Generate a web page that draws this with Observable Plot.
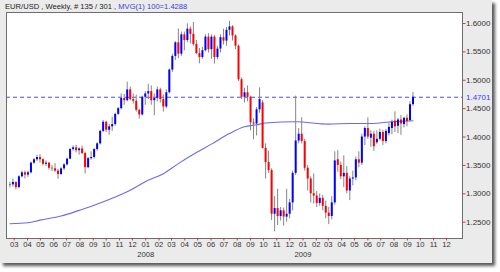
<!DOCTYPE html>
<html>
<head>
<meta charset="utf-8">
<script src="https://cdn.jsdelivr.net/npm/d3@7"></script>
<script src="https://cdn.jsdelivr.net/npm/@observablehq/plot@0.6"></script>
<style>
  html, body { margin: 0; padding: 0; background: #ffffff; }
  body { width: 500px; height: 272px; position: relative; overflow: hidden;
         font-family: "Liberation Sans", Arial, sans-serif; }
  #panel { position: absolute; left: 0; top: 0; width: 492px; height: 263px;
           background: #ebebeb; box-shadow: 3px 3px 3px #5a5a5a; }
  #chart { position: absolute; left: 0; top: 0; }
  #title { position: absolute; left: 5px; top: 3px; font-size: 7.6px; line-height: 8px;
           color: #222; white-space: nowrap; }
  #title .ma { color: #3c3cd6; }
</style>
</head>
<body>
<div id="panel"></div>
<div id="chart"></div>
<div id="title"></div>
<script>
// ---- data (EUR/USD weekly bars) ----
const weeks = [
  "2007-02-19","2007-02-26","2007-03-05","2007-03-12","2007-03-19","2007-03-26","2007-04-02","2007-04-09","2007-04-16","2007-04-23",
  "2007-04-30","2007-05-07","2007-05-14","2007-05-21","2007-05-28","2007-06-04","2007-06-11","2007-06-18","2007-06-25","2007-07-02",
  "2007-07-09","2007-07-16","2007-07-23","2007-07-30","2007-08-06","2007-08-13","2007-08-20","2007-08-27","2007-09-03","2007-09-10",
  "2007-09-17","2007-09-24","2007-10-01","2007-10-08","2007-10-15","2007-10-22","2007-10-29","2007-11-05","2007-11-12","2007-11-19",
  "2007-11-26","2007-12-03","2007-12-10","2007-12-17","2007-12-24","2007-12-31","2008-01-07","2008-01-14","2008-01-21","2008-01-28",
  "2008-02-04","2008-02-11","2008-02-18","2008-02-25","2008-03-03","2008-03-10","2008-03-17","2008-03-24","2008-03-31","2008-04-07",
  "2008-04-14","2008-04-21","2008-04-28","2008-05-05","2008-05-12","2008-05-19","2008-05-26","2008-06-02","2008-06-09","2008-06-16",
  "2008-06-23","2008-06-30","2008-07-07","2008-07-14","2008-07-21","2008-07-28","2008-08-04","2008-08-11","2008-08-18","2008-08-25",
  "2008-09-01","2008-09-08","2008-09-15","2008-09-22","2008-09-29","2008-10-06","2008-10-13","2008-10-20","2008-10-27","2008-11-03",
  "2008-11-10","2008-11-17","2008-11-24","2008-12-01","2008-12-08","2008-12-15","2008-12-22","2008-12-29","2009-01-05","2009-01-12",
  "2009-01-19","2009-01-26","2009-02-02","2009-02-09","2009-02-16","2009-02-23","2009-03-02","2009-03-09","2009-03-16","2009-03-23",
  "2009-03-30","2009-04-06","2009-04-13","2009-04-20","2009-04-27","2009-05-04","2009-05-11","2009-05-18","2009-05-25","2009-06-01",
  "2009-06-08","2009-06-15","2009-06-22","2009-06-29","2009-07-06","2009-07-13","2009-07-20","2009-07-27","2009-08-03","2009-08-10",
  "2009-08-17","2009-08-24","2009-08-31","2009-09-07","2009-09-14"
];
const open = [
  1.3150,1.3158,1.3200,1.3110,1.3300,1.3370,1.3330,1.3370,1.3540,1.3600,
  1.3640,1.3600,1.3520,1.3540,1.3450,1.3440,1.3400,1.3340,1.3440,1.3510,
  1.3610,1.3780,1.3810,1.3760,1.3790,1.3710,1.3460,1.3620,1.3640,1.3780,
  1.3880,1.4100,1.4260,1.4120,1.4180,1.4220,1.4400,1.4500,1.4680,1.4640,
  1.4830,1.4660,1.4630,1.4470,1.4390,1.4700,1.4760,1.4800,1.4640,1.4680,
  1.4830,1.4660,1.4530,1.4780,1.5180,1.5420,1.5660,1.5460,1.5800,1.5700,
  1.5900,1.5810,1.5630,1.5470,1.5400,1.5520,1.5760,1.5540,1.5760,1.5400,
  1.5550,1.5750,1.5690,1.5880,1.5940,1.5780,1.5600,1.5010,1.4700,1.4780,
  1.4700,1.4250,1.4230,1.4480,1.4600,1.3800,1.3550,1.3410,1.2640,1.2740,
  1.2600,1.2700,1.2590,1.2640,1.2840,1.3360,1.3930,1.4050,1.3920,1.3450,
  1.3260,1.3000,1.2960,1.2830,1.2920,1.2780,1.2660,1.2600,1.2840,1.3600,
  1.3500,1.3300,1.3360,1.3050,1.3260,1.3280,1.3600,1.3540,1.4000,1.4150,
  1.3980,1.4050,1.3900,1.3960,1.4080,1.3920,1.4060,1.4150,1.4280,1.4190,
  1.4300,1.4220,1.4330,1.4290,1.4570
];
const high = [
  1.3205,1.3260,1.3210,1.3320,1.3400,1.3400,1.3400,1.3560,1.3620,1.3680,
  1.3690,1.3620,1.3580,1.3550,1.3500,1.3530,1.3430,1.3460,1.3530,1.3630,
  1.3800,1.3845,1.3852,1.3810,1.3840,1.3730,1.3640,1.3740,1.3800,1.3900,
  1.4120,1.4290,1.4280,1.4220,1.4350,1.4420,1.4520,1.4760,1.4750,1.4967,
  1.4880,1.4760,1.4740,1.4490,1.4720,1.4800,1.4930,1.4900,1.4760,1.4880,
  1.4860,1.4740,1.4830,1.5200,1.5460,1.5680,1.5903,1.5850,1.5850,1.5995,
  1.5940,1.6019,1.5700,1.5560,1.5580,1.5800,1.5820,1.5800,1.5790,1.5600,
  1.5800,1.5900,1.5930,1.6038,1.5960,1.5800,1.5620,1.5040,1.4860,1.4900,
  1.4720,1.4320,1.4520,1.4867,1.4640,1.3880,1.3750,1.3440,1.2950,1.3080,
  1.2760,1.2750,1.3080,1.2900,1.3400,1.4720,1.4150,1.4340,1.3960,1.3500,
  1.3300,1.3350,1.3040,1.3000,1.2970,1.2870,1.2760,1.2950,1.3740,1.3760,
  1.3560,1.3670,1.3480,1.3300,1.3400,1.3650,1.3740,1.4050,1.4180,1.4340,
  1.4110,1.4100,1.4110,1.4140,1.4120,1.4130,1.4250,1.4300,1.4445,1.4330,
  1.4380,1.4350,1.4390,1.4620,1.4787
];
const low = [
  1.3105,1.3120,1.3070,1.3090,1.3280,1.3260,1.3290,1.3350,1.3520,1.3570,
  1.3540,1.3490,1.3480,1.3420,1.3390,1.3380,1.3256,1.3320,1.3410,1.3490,
  1.3600,1.3750,1.3720,1.3680,1.3690,1.3350,1.3440,1.3590,1.3610,1.3750,
  1.3860,1.4080,1.4080,1.4030,1.4100,1.4190,1.4380,1.4480,1.4560,1.4620,
  1.4640,1.4580,1.4440,1.4316,1.4370,1.4560,1.4660,1.4560,1.4375,1.4620,
  1.4600,1.4440,1.4500,1.4760,1.5140,1.5350,1.5380,1.5420,1.5520,1.5660,
  1.5640,1.5600,1.5450,1.5290,1.5370,1.5500,1.5480,1.5370,1.5285,1.5360,
  1.5480,1.5620,1.5600,1.5780,1.5690,1.5540,1.4980,1.4660,1.4600,1.4620,
  1.4110,1.3950,1.4020,1.4420,1.3790,1.3260,1.3360,1.2530,1.2330,1.2440,
  1.2520,1.2430,1.2500,1.2560,1.2700,1.3320,1.3880,1.3880,1.3400,1.3050,
  1.2840,1.2820,1.2760,1.2780,1.2700,1.2560,1.2457,1.2540,1.2800,1.3380,
  1.3250,1.3110,1.3000,1.2880,1.3140,1.3230,1.3460,1.3500,1.3850,1.3960,
  1.3820,1.3750,1.3870,1.3930,1.3850,1.3880,1.4020,1.4040,1.4080,1.4060,
  1.4030,1.4160,1.4180,1.4260,1.4540
];
const close = [
  1.3158,1.3200,1.3110,1.3300,1.3370,1.3330,1.3370,1.3540,1.3600,1.3640,
  1.3600,1.3520,1.3540,1.3450,1.3440,1.3400,1.3340,1.3440,1.3510,1.3610,
  1.3780,1.3810,1.3760,1.3790,1.3710,1.3460,1.3620,1.3640,1.3780,1.3880,
  1.4100,1.4260,1.4120,1.4180,1.4220,1.4400,1.4500,1.4680,1.4640,1.4830,
  1.4660,1.4630,1.4470,1.4390,1.4700,1.4760,1.4800,1.4640,1.4680,1.4830,
  1.4660,1.4530,1.4780,1.5180,1.5420,1.5660,1.5460,1.5800,1.5700,1.5900,
  1.5810,1.5630,1.5470,1.5400,1.5520,1.5760,1.5540,1.5760,1.5400,1.5550,
  1.5750,1.5690,1.5880,1.5940,1.5780,1.5600,1.5010,1.4700,1.4780,1.4700,
  1.4250,1.4230,1.4480,1.4660,1.3800,1.3550,1.3410,1.2640,1.2740,1.2600,
  1.2700,1.2590,1.2640,1.2840,1.3360,1.3930,1.4050,1.3920,1.3450,1.3260,
  1.3000,1.2960,1.2830,1.2920,1.2780,1.2660,1.2600,1.2840,1.3580,1.3500,
  1.3300,1.3360,1.3050,1.3260,1.3280,1.3600,1.3540,1.4000,1.4150,1.4000,
  1.4050,1.3830,1.3960,1.4080,1.3920,1.4100,1.4170,1.4260,1.4180,1.4300,
  1.4230,1.4330,1.4270,1.4570,1.4701
];
// 100-period moving average
const maWeeks = [
  "2007-02-19","2007-04-02","2007-04-30","2007-06-18","2007-07-30","2007-09-03","2007-10-15","2007-11-26",
  "2007-12-31","2008-02-11","2008-03-17","2008-04-28","2008-06-02","2008-07-14","2008-08-18","2008-09-15",
  "2008-10-06","2008-12-15","2009-03-02","2009-04-20","2009-06-08","2009-07-27","2009-09-14"
];
const maValues = [
  1.2472,1.2489,1.2537,1.2608,1.2708,1.2797,1.2920,1.3062,
  1.3214,1.3355,1.3532,1.3726,1.3875,1.4062,1.4181,1.4216,
  1.4246,1.4269,1.4228,1.4239,1.4239,1.4269,1.4288
];
const priceTicks = [1.25, 1.30, 1.35, 1.40, 1.45, 1.50, 1.55, 1.60];
const yearLabels = ["2008", "2009"];
const yearDates = ["2008-01-01", "2009-01-01"];
const totalBars = 301;

// ---- build tables ----
const bars = weeks.map((w, i) => ({date: new Date(w), o: open[i], h: high[i], l: low[i], c: close[i]}));
const ma = maWeeks.map((w, i) => ({date: new Date(w), v: maValues[i]}));
const years = yearLabels.map((t, i) => ({date: new Date(yearDates[i]), t}));
const lastClose = close[close.length - 1];
const lastMA = maValues[maValues.length - 1];
const monthTicks = d3.utcMonth.range(new Date("2007-03-01"), new Date("2009-12-02"));

document.getElementById("title").innerHTML =
  `EUR/USD , Weekly, # ${bars.length} / ${totalBars} , <span class="ma">MVG(1) 100=${lastMA.toFixed(4)}</span>`;

const chart = Plot.plot({
  width: 500,
  height: 272,
  marginLeft: 6,
  marginRight: 38,
  marginTop: 12,
  marginBottom: 34,
  style: {background: "transparent", fontFamily: "'Liberation Sans', Arial, sans-serif", color: "#222", overflow: "visible"},
  x: {type: "utc", domain: [new Date("2007-03-01"), new Date("2009-12-01")], range: [13.7, 446]},
  y: {domain: [1.25, 1.6], range: [221.7, 23]},
  marks: [
    Plot.frame({fill: "#ffffff", stroke: "none"}),
    Plot.line(ma, {x: "date", y: "v", stroke: "#6a6af0", strokeWidth: 1.1, curve: "monotone-x"}),
    Plot.ruleY([lastClose], {stroke: "#4d4dff", strokeDasharray: "4,3"}),
    Plot.ruleX(bars, {x: "date", y1: "l", y2: "h", stroke: "#858585"}),
    Plot.ruleX(bars, {filter: d => d.c >= d.o, x: "date", y1: "o", y2: "c", stroke: "#0000ff", strokeWidth: 2}),
    Plot.ruleX(bars, {filter: d => d.c < d.o, x: "date", y1: "o", y2: "c", stroke: "#ff0000", strokeWidth: 2}),
    Plot.frame({stroke: "#6e6e6e"}),
    Plot.axisX({ticks: monthTicks, tickFormat: d => d3.utcFormat("%m")(d), tickSize: 2.5, tickPadding: 1,
                stroke: "#e83030", fill: "#333", fontSize: 7.6}),
    Plot.text(years, {x: "date", text: "t", frameAnchor: "bottom", dy: 18.7, fill: "#333", fontSize: 7.6}),
    Plot.axisY({anchor: "right", ticks: priceTicks, tickFormat: d => d.toFixed(4), tickSize: 2.5, tickPadding: 1,
                stroke: "#e83030", fill: "#333", fontSize: 8}),
    Plot.text([lastClose], {y: d => d, text: d => d.toFixed(4), frameAnchor: "right", dx: 3.5,
                textAnchor: "start", fill: "#3a3aff", fontSize: 8})
  ]
});
document.getElementById("chart").appendChild(chart);
</script>
</body>
</html>
